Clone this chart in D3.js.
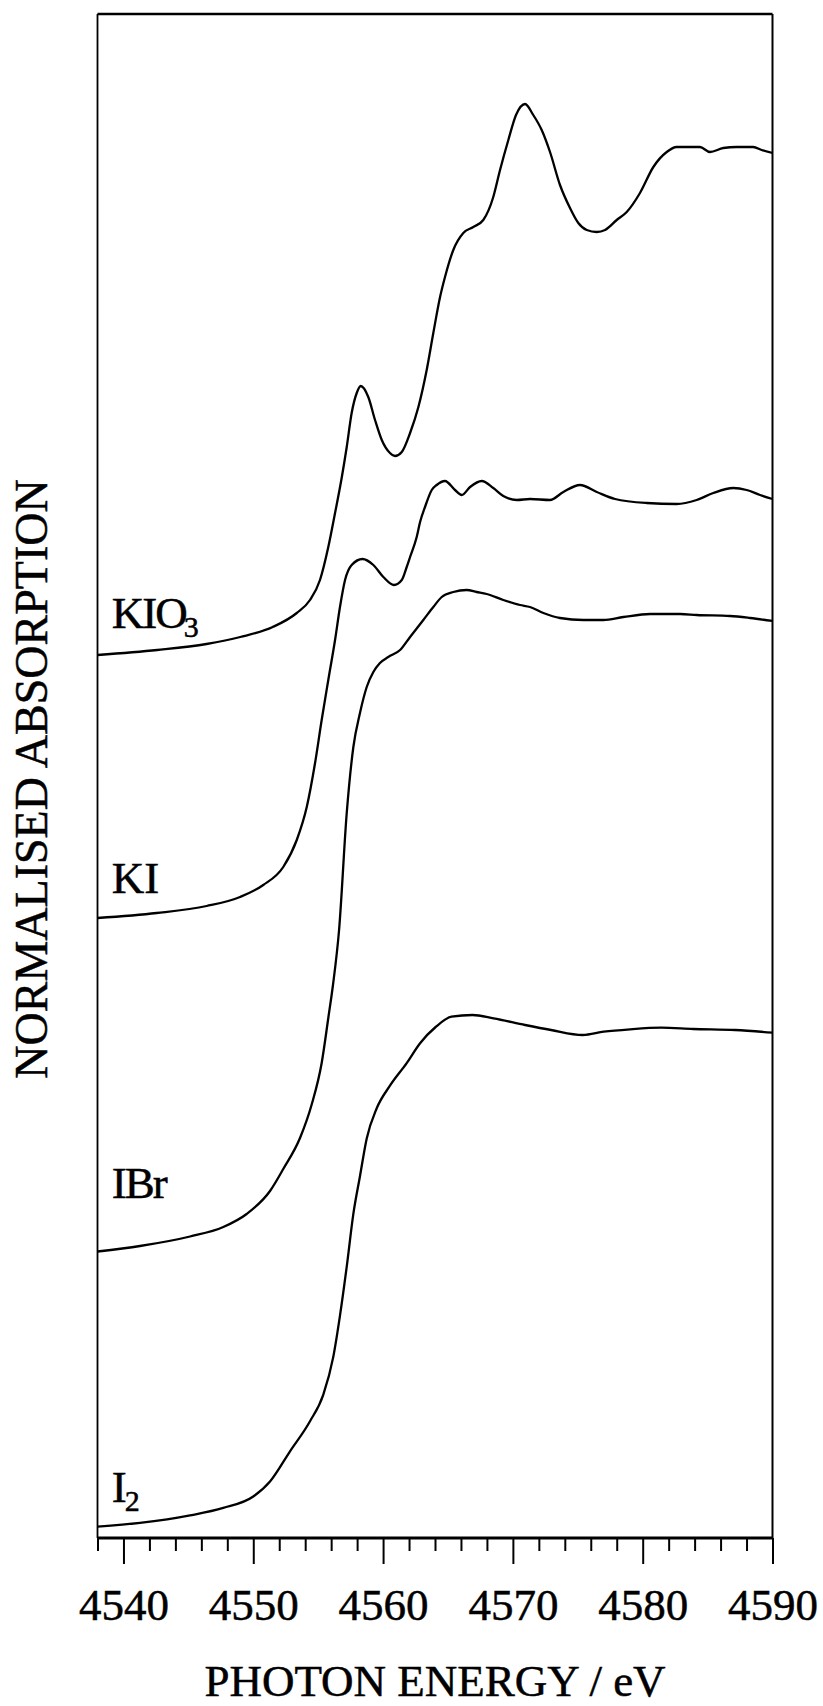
<!DOCTYPE html>
<html>
<head>
<meta charset="utf-8">
<script src="https://cdn.jsdelivr.net/npm/d3@7"></script>
<style>
  html, body { margin: 0; padding: 0; background: #fff; }
  svg { display: block; }
  text { font-family: "Liberation Serif", "Times New Roman", serif; fill: #000; stroke: #000; stroke-width: 0.5px; }
</style>
</head>
<body>
<svg id="chart" width="823" height="1706"></svg>
<script>
(function () {
// ---------- data (photon energy / eV, normalised absorption with vertical offsets) ----------
const kio3Energy = [4538.0,4542.6,4546.4,4549.0,4551.5,4553.35,4554.37,4555.14,4555.78,4556.30,4556.81,4557.20,4557.58,4557.97,4558.28,4558.86,4559.38,4559.90,4560.53,4560.92,4561.44,4562.08,4562.72,4563.36,4563.87,4564.39,4564.77,4565.41,4566.18,4566.95,4567.72,4568.49,4569.01,4569.65,4570.24,4570.94,4571.57,4572.22,4572.86,4573.63,4574.40,4575.04,4575.69,4576.46,4577.10,4578.00,4578.77,4579.79,4580.82,4581.85,4582.62,4583.64,4584.41,4585.18,4586.21,4587.24,4588.52,4589.17,4590.0];
const kio3Abs    = [8.83,8.88,8.94,9.01,9.11,9.25,9.38,9.58,9.91,10.25,10.60,10.91,11.25,11.45,11.52,11.41,11.18,10.98,10.85,10.82,10.86,11.05,11.31,11.68,12.05,12.41,12.61,12.88,13.05,13.11,13.18,13.41,13.68,13.98,14.23,14.34,14.23,14.08,13.86,13.53,13.30,13.15,13.08,13.06,13.08,13.18,13.26,13.45,13.71,13.86,13.91,13.91,13.91,13.86,13.90,13.91,13.91,13.88,13.85];

const kiEnergy = [4538.0,4542.56,4546.41,4548.98,4550.77,4552.31,4553.35,4554.12,4554.76,4555.27,4555.78,4556.30,4556.68,4557.07,4557.58,4558.42,4559.25,4560.02,4560.84,4561.44,4561.82,4562.08,4562.59,4562.85,4563.23,4563.75,4564.13,4564.77,4565.54,4566.06,4566.70,4567.60,4568.49,4569.26,4570.30,4571.32,4572.86,4573.89,4575.17,4576.46,4577.87,4580.31,4582.62,4584.16,4585.44,4586.98,4588.01,4589.04,4590.0];
const kiAbs    = [6.20,6.25,6.32,6.41,6.53,6.71,6.98,7.31,7.75,8.18,8.58,8.98,9.31,9.58,9.73,9.79,9.73,9.61,9.53,9.58,9.71,9.81,10.01,10.16,10.31,10.48,10.53,10.57,10.48,10.43,10.51,10.57,10.50,10.42,10.38,10.39,10.38,10.46,10.53,10.46,10.39,10.35,10.34,10.38,10.45,10.50,10.48,10.43,10.39];

const ibrEnergy = [4538.0,4541.27,4545.13,4547.69,4549.49,4551.29,4552.31,4553.60,4554.50,4555.27,4555.78,4556.14,4556.61,4557.20,4557.71,4558.22,4558.74,4559.25,4559.76,4560.40,4561.31,4562.08,4563.10,4563.87,4564.52,4565.41,4566.44,4567.21,4567.98,4569.26,4570.55,4571.32,4572.35,4573.63,4575.43,4576.97,4578.51,4580.57,4582.88,4584.16,4586.73,4588.27,4590.0];
const ibrAbs    = [2.865,2.92,3.015,3.11,3.24,3.47,3.69,4.00,4.335,4.75,5.20,5.53,6.08,7.25,7.91,8.25,8.51,8.66,8.75,8.81,8.88,9.01,9.18,9.31,9.41,9.46,9.48,9.46,9.44,9.38,9.33,9.31,9.25,9.20,9.18,9.18,9.21,9.24,9.24,9.23,9.22,9.20,9.17];

const i2Energy = [4538.0,4541.27,4545.13,4547.69,4550.0,4551.29,4552.83,4554.37,4555.39,4556.16,4556.68,4557.20,4557.71,4558.22,4558.74,4559.51,4560.53,4561.82,4562.85,4564.05,4565.27,4566.89,4568.51,4570.94,4572.94,4575.38,4577.00,4579.03,4581.44,4583.88,4587.11,4590.0];
const i2Abs    = [0.113,0.151,0.226,0.301,0.415,0.565,0.867,1.168,1.432,1.809,2.224,2.714,3.241,3.618,3.995,4.297,4.523,4.749,4.948,5.11,5.213,5.23,5.197,5.13,5.08,5.03,5.063,5.087,5.103,5.09,5.08,5.053];

const seriesNames    = ["KIO", "KI", "IBr", "I"];
const seriesSubs     = ["3", "", "", "2"];
const labelEnergy    = [4539.1, 4539.1, 4539.1, 4539.1];
const labelAbs       = [9.10, 6.45, 3.40, 0.36];

const majorTicks = [4540, 4550, 4560, 4570, 4580, 4590];
const majorTickLabels = ["4540", "4550", "4560", "4570", "4580", "4590"];
const minorTicks = [4538,4542,4544,4546,4548,4552,4554,4556,4558,4562,4564,4566,4568,4572,4574,4576,4578,4582,4584,4586,4588];

const xTitle = "PHOTON ENERGY / eV";
const yTitle = "NORMALISED ABSORPTION";

// ---------- layout ----------
const plotLeft = 97.5, plotRight = 772.5, plotTop = 14, plotBottom = 1538;
const svg = d3.select("#chart");
svg.append("rect").attr("width", 823).attr("height", 1706).attr("fill", "#fff");

const x = d3.scaleLinear().domain([4538, 4590]).range([plotLeft, plotRight]);
const y = d3.scaleLinear().domain([0, 15.24]).range([plotBottom, plotTop]);

// frame
svg.append("line").attr("x1", plotLeft).attr("x2", plotRight).attr("y1", plotTop).attr("y2", plotTop)
  .attr("stroke", "#000").attr("stroke-width", 2.5);
svg.append("line").attr("x1", plotLeft).attr("x2", plotLeft).attr("y1", plotTop).attr("y2", plotBottom)
  .attr("stroke", "#000").attr("stroke-width", 1.8);
svg.append("line").attr("x1", plotRight).attr("x2", plotRight).attr("y1", plotTop).attr("y2", plotBottom)
  .attr("stroke", "#000").attr("stroke-width", 2);

// minor ticks
const minorAxis = d3.axisBottom(x).tickValues(minorTicks).tickSize(13).tickFormat("");
const gMinor = svg.append("g").attr("transform", `translate(0,${plotBottom})`).call(minorAxis);
gMinor.select(".domain").remove();
gMinor.selectAll(".tick line").attr("stroke", "#000").attr("stroke-width", 2);

// major ticks + labels
const majorAxis = d3.axisBottom(x).tickValues(majorTicks).tickSize(26)
  .tickFormat((d, i) => majorTickLabels[i]);
const gMajor = svg.append("g").attr("transform", `translate(0,${plotBottom})`).call(majorAxis);
gMajor.select(".domain").remove();
gMajor.selectAll(".tick line").attr("stroke", "#000").attr("stroke-width", 2);
gMajor.selectAll(".tick text")
  .attr("y", 82).attr("dy", 0)
  .attr("font-size", 45)
  .attr("font-family", "'Liberation Serif', 'Times New Roman', serif")
  .attr("fill", "#000");

// bottom axis line (thick)
svg.append("line").attr("x1", plotLeft).attr("x2", plotRight).attr("y1", plotBottom).attr("y2", plotBottom)
  .attr("stroke", "#000").attr("stroke-width", 3);

// curves
const series = [
  { e: kio3Energy, a: kio3Abs },
  { e: kiEnergy,   a: kiAbs },
  { e: ibrEnergy,  a: ibrAbs },
  { e: i2Energy,   a: i2Abs }
];
const line = d3.line().x(d => x(d[0])).y(d => y(d[1])).curve(d3.curveMonotoneX);
series.forEach(s => {
  const pts = s.e.map((v, i) => [v, s.a[i]]);
  svg.append("path").attr("d", line(pts))
    .attr("fill", "none").attr("stroke", "#000")
    .attr("stroke-width", 2.3).attr("stroke-linejoin", "round");
});

// series labels
seriesNames.forEach((name, i) => {
  const t = svg.append("text")
    .attr("x", x(labelEnergy[i])).attr("y", y(labelAbs[i]))
    .attr("font-size", 45)
    .attr("letter-spacing", (name === "KIO" || name === "IBr") ? -2 : 0);
  t.append("tspan").text(name);
  if (seriesSubs[i]) {
    t.append("tspan").attr("font-size", 30).attr("dy", 9).attr("dx", -2).text(seriesSubs[i]);
  }
});

// axis titles
svg.append("text")
  .attr("x", (plotLeft + plotRight) / 2).attr("y", 1696)
  .attr("text-anchor", "middle").attr("font-size", 45)
  .text(xTitle);

svg.append("text")
  .attr("transform", `translate(47,${(plotTop + plotBottom) / 2 + 3}) rotate(-90)`)
  .attr("text-anchor", "middle").attr("font-size", 46)
  .text(yTitle);
})();
</script>
</body>
</html>
